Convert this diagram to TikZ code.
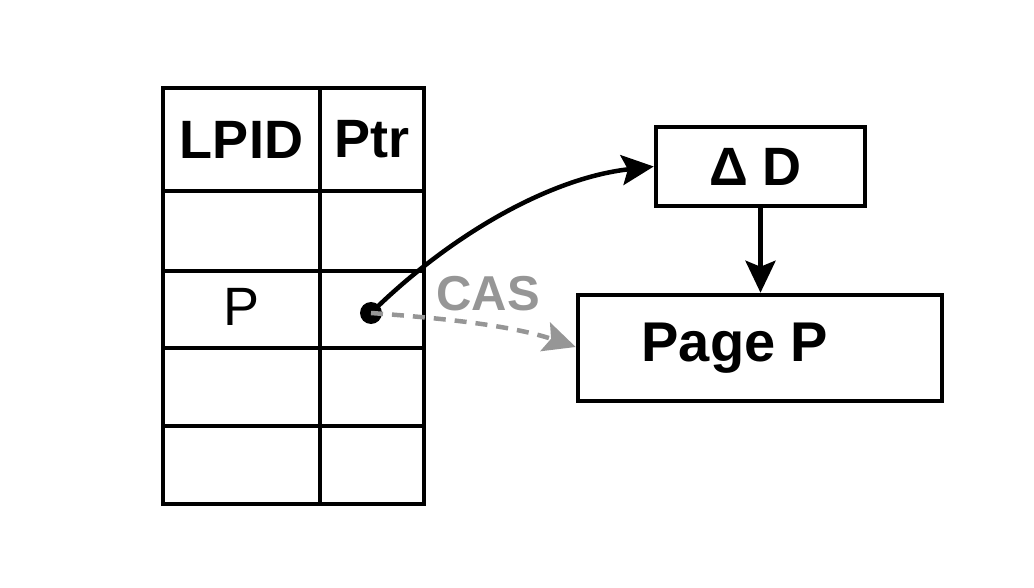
\documentclass[tikz,border=0pt]{standalone}
\usepackage{fontspec}
\setmainfont{Liberation Sans}
\usetikzlibrary{arrows.meta}
\begin{document}
\begin{tikzpicture}[x=1pt,y=-1pt,
  line width=4.5pt,
  cell/.style={draw, rectangle, inner sep=0pt, line width=4.5pt},
  lbl/.style={font=\fontsize{54}{60}\selectfont\bfseries},
  tip/.style={-{Stealth[length=32pt,width=30pt,inset=6pt]}},
]
\useasboundingbox (0,0) rectangle (1034,588);
% table cells
\foreach \r/\ya/\yb in {1/88/191, 2/191/271, 3/271/348, 4/348/426, 5/426/504}{
  \node[cell, minimum width=157pt, minimum height={\yb-\ya}] (id\r) at (241.5,{(\ya+\yb)/2}) {};
  \node[cell, minimum width=104pt, minimum height={\yb-\ya}] (ptr\r) at (372,{(\ya+\yb)/2}) {};
}
\node[lbl] at (id1) {LPID};
\node[lbl] at (ptr1) {Ptr};
\node[font=\fontsize{54}{60}\selectfont] at ([yshift=3pt]id3.center) {P};
% boxes
\node[cell, minimum width=209pt, minimum height=79pt, lbl, font=\fontsize{54}{60}\selectfont\bfseries] (delta) at (760.5,166.5) {\hspace*{-10pt}Δ D};
\node[cell, minimum width=364pt, minimum height=106pt] (page) at (760,348) {};
\node[lbl, font=\fontsize{56}{60}\selectfont\bfseries] at (735,348) {Page P};
% pointer
\node[circle, fill=black, inner sep=0pt, minimum size=22pt] (dot) at (371,313) {};
\draw[tip] (dot.center) .. controls (450,235) and (550,178) .. (delta.west);
\draw[tip, color={rgb,255:red,150;green,150;blue,150}, dash pattern=on 12pt off 9pt]
  (dot.center) .. controls (440,318) and (510,325) .. (page.west |- 0,347);
\node[font=\fontsize{49}{55}\selectfont\bfseries, text={rgb,255:red,150;green,150;blue,150}] at (488,294) {CAS};
\draw[tip] (delta.south) -- (page.north -| delta.south);
\end{tikzpicture}
\end{document}
